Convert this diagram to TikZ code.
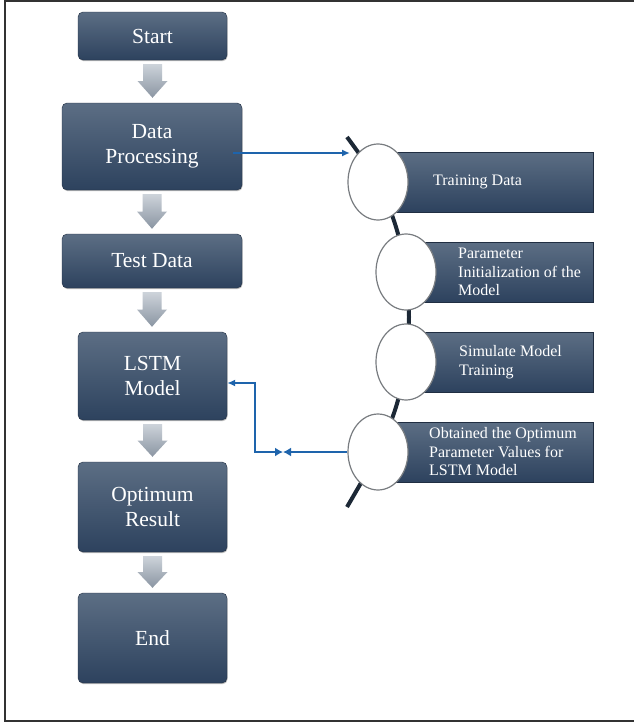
\documentclass[tikz,border=0pt]{standalone}
\usepackage{fontspec}
\setmainfont{Liberation Serif}
\newfontfamily\tnrfont{Liberation Serif}
\usetikzlibrary{calc,arrows.meta,shapes.geometric,shadows}
\definecolor{boxtop}{RGB}{92,110,132}
\definecolor{boxbot}{RGB}{45,66,94}
\definecolor{arrtop}{RGB}{205,211,218}
\definecolor{arrbot}{RGB}{138,149,162}
\definecolor{flowblue}{RGB}{30,100,172}
\definecolor{spinecol}{RGB}{28,40,54}
\definecolor{ringgray}{RGB}{120,124,128}
\definecolor{framecol}{RGB}{50,50,50}
\tikzset{
  mainbox/.style={rectangle, rounded corners=5pt, top color=boxtop, bottom color=boxbot,
    draw=boxbot!70!black, line width=0.4pt, text=white, align=center, inner sep=0pt,
    font=\tnrfont\fontsize{21.5}{24.5}\selectfont,
    drop shadow={shadow xshift=0.6pt, shadow yshift=-1.2pt, opacity=0.25, fill=black}},
  rbox/.style={rectangle, top color=boxtop, bottom color=boxbot, draw=boxbot!70!black,
    line width=0.4pt, inner sep=0pt, anchor=west,
    drop shadow={shadow xshift=0.6pt, shadow yshift=-1.2pt, opacity=0.25, fill=black}},
  ring/.style={ellipse, minimum width=60pt, minimum height=76pt, fill=white,
    draw=ringgray, line width=1.2pt, inner sep=0pt},
  rtext/.style={text=white, align=left, inner sep=0pt, anchor=west,
    font=\tnrfont\fontsize{16}{18.5}\selectfont},
  flow/.style={draw=flowblue, line width=1.6pt},
  spineline/.style={draw=spinecol, line width=4pt}
}
\newcommand{\greyarrow}[2]{%
  \shade[top color=arrtop, bottom color=arrbot]
    let \p1=($(#1.south)+(0,4)$), \p2=($(#2.north)+(0,-5)$), \n1={0.5*(\y1+\y2)} in
    (\x1-9.5pt,\y1) -- (\x1+9.5pt,\y1) -- (\x1+9.5pt,\n1*1pt) -- (\x1+15pt,\n1*1pt)
    -- (\x1,\y2) -- (\x1-15pt,\n1*1pt) -- (\x1-9.5pt,\n1*1pt) -- cycle;}
\begin{document}
\begin{tikzpicture}[x=1pt,y=-1pt]
\useasboundingbox (0,0) rectangle (634,723);
\fill[white] (0,0) rectangle (634,723);
\draw[framecol, line width=1.3pt] (634,1) -- (5,1) -- (5,721) -- (634,721);

% main column
\node[mainbox, minimum width=149pt, minimum height=48pt] (start) at (152.5,36) {Start};
\node[mainbox, minimum width=180pt, minimum height=87pt] (dp) at (152,146.5) {Data\\Processing};
\node[mainbox, minimum width=180pt, minimum height=54pt] (test) at (152,261) {Test Data};
\node[mainbox, minimum width=149pt, minimum height=88pt] (lstm) at (152.5,376) {LSTM\\Model};
\node[mainbox, minimum width=149pt, minimum height=90pt] (opt) at (152.5,507) {Optimum\\Result};
\node[mainbox, minimum width=149pt, minimum height=90pt] (end) at (152.5,638) {End};

\greyarrow{start}{dp}
\greyarrow{dp}{test}
\greyarrow{test}{lstm}
\greyarrow{lstm}{opt}
\greyarrow{opt}{end}

% right side boxes
\node[rbox, minimum width=215pt, minimum height=60pt] (b1) at (378,182) {};
\node[rbox, minimum width=187pt, minimum height=60pt] (b2) at (406,272) {};
\node[rbox, minimum width=187pt, minimum height=60pt] (b3) at (406,362) {};
\node[rbox, minimum width=215pt, minimum height=60pt] (b4) at (378,452) {};

% spine
\draw[spineline] plot[smooth] coordinates {(347,137) (378,182) (396,227) (406,272) (409,317) (406,362) (396,407) (378,452) (347,507)};

% rings
\node[ring] (c1) at (378,182) {};
\node[ring] (c2) at (406,272) {};
\node[ring] (c3) at (406,362) {};
\node[ring] (c4) at (378,452) {};

% texts
\node[rtext] (t1) at (433,182) {Training Data};
\node[rtext] (t2) at (458,272) {Parameter\\Initialization of the\\Model};
\node[rtext] (t3) at (459,362) {Simulate Model\\Training};
\node[rtext] (t4) at (429,452) {Obtained the Optimum\\Parameter Values for\\LSTM Model};

% blue connectors
\coordinate (c1in) at (350,153);
\draw[flow, -{Latex[length=8pt,width=7pt]}] ([xshift=-9pt,yshift=-6.5pt]dp.east) -- (c1in);
\coordinate (bow) at (283,452);
\coordinate (bend) at (255,452);
\draw[flow, {Latex[length=8pt,width=9pt]}-{Latex[length=8pt,width=7pt]}] (bow) -- (bend) |- ([yshift=-7pt]lstm.east);
\draw[flow, -{Latex[length=8pt,width=9pt]}] (c4.west) -- (bow);
\end{tikzpicture}
\end{document}
